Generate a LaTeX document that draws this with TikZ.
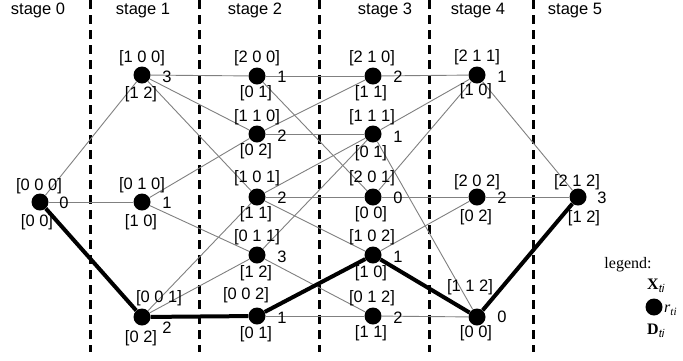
\documentclass[tikz,border=0pt]{standalone}
\usepackage{fontspec}
\setmainfont{Liberation Sans}
\newfontfamily\legendfont{Liberation Serif}
\begin{document}
\begin{tikzpicture}[x=1pt,y=-1pt,
  st/.style={circle,fill=black,inner sep=0pt,minimum size=17pt},
  lbl/.style={inner sep=0pt,font=\fontsize{16.5}{18}\selectfont},
  stagelbl/.style={inner sep=0pt,anchor=base,font=\fontsize{16.5}{18}\selectfont},
  leg/.style={inner sep=0pt,font=\legendfont\fontsize{16}{18}\selectfont},
  thinedge/.style={draw=black!50,line width=0.9pt},
  thickedge/.style={draw=black,line width=4pt,line join=round},
  divider/.style={draw=black,line width=3pt,dash pattern=on 9pt off 6pt}
]
\fill[white] (0,0) rectangle (683,360);
\path[use as bounding box] (0,0) rectangle (683,360);

% stage dividers
\foreach \xx/\nm in {90/d1,199/d2,319/d3,429/d4,533/d5}{
  \coordinate (\nm t) at (\xx,0);
  \coordinate (\nm b) at (\xx,352);
  \draw[divider] (\nm t) -- (\nm b);
}

% stage labels
\node[stagelbl] (sl0) at (38,14) {stage 0};
\node[stagelbl] (sl1) at (143,14) {stage 1};
\node[stagelbl] (sl2) at (255,14) {stage 2};
\node[stagelbl] (sl3) at (385,14) {stage 3};
\node[stagelbl] (sl4) at (478,14) {stage 4};
\node[stagelbl] (sl5) at (575,14) {stage 5};

% state nodes
\node[st] (n000) at (40,202) {};
\node[st] (n100) at (142,75) {};
\node[st] (n010) at (142,202) {};
\node[st] (n001) at (142,317) {};
\node[st] (n200) at (257,76) {};
\node[st] (n110) at (257,134) {};
\node[st] (n101) at (257,197) {};
\node[st] (n011) at (257,255) {};
\node[st] (n002) at (257,316) {};
\node[st] (n210) at (373,76) {};
\node[st] (n111) at (373,134) {};
\node[st] (n201) at (373,197) {};
\node[st] (n102) at (373,255) {};
\node[st] (n012) at (373,316) {};
\node[st] (n211) at (477,75) {};
\node[st] (n202) at (477,197) {};
\node[st] (n112) at (477,317) {};
\node[st] (n212) at (578,197) {};

% thin connectors
\draw[thinedge] (n000) -- (n100);
\draw[thinedge] (n000) -- (n010);
\draw[thinedge] (n100) -- (n200);
\draw[thinedge] (n100) -- (n110);
\draw[thinedge] (n100) -- (n101);
\draw[thinedge] (n010) -- (n110);
\draw[thinedge] (n010) -- (n011);
\draw[thinedge] (n001) -- (n101);
\draw[thinedge] (n001) -- (n011);
\draw[thinedge] (n200) -- (n210);
\draw[thinedge] (n200) -- (n201);
\draw[thinedge] (n110) -- (n210);
\draw[thinedge] (n110) -- (n111);
\draw[thinedge] (n101) -- (n111);
\draw[thinedge] (n101) -- (n201);
\draw[thinedge] (n101) -- (n102);
\draw[thinedge] (n011) -- (n111);
\draw[thinedge] (n011) -- (n012);
\draw[thinedge] (n002) -- (n012);
\draw[thinedge] (n210) -- (n211);
\draw[thinedge] (n111) -- (n211);
\draw[thinedge] (n111) -- (n112);
\draw[thinedge] (n201) -- (n211);
\draw[thinedge] (n201) -- (n202);
\draw[thinedge] (n102) -- (n202);
\draw[thinedge] (n012) -- (n112);
\draw[thinedge] (n211) -- (n212);
\draw[thinedge] (n202) -- (n212);

% optimal path
\draw[thickedge] (n000) -- (n001);
\draw[thickedge] (n001) -- (n002);
\draw[thickedge] (n002) -- (n102);
\draw[thickedge] (n102) -- (n112);
\draw[thickedge] (n112) -- (n212);

% labels: X above, D below, r right
\node[lbl] (x000) at (39,186) {[0 0 0]};
\node[lbl] (dd000) at (37,222) {[0 0]};
\node[lbl] (r000) at (64,203) {0};

\node[lbl] (x100) at (142,58) {[1 0 0]};
\node[lbl] (dd100) at (141,94) {[1 2]};
\node[lbl] (r100) at (167,77) {3};

\node[lbl] (x010) at (142,185) {[0 1 0]};
\node[lbl] (dd010) at (141,222) {[1 0]};
\node[lbl] (r010) at (167,203) {1};

\node[lbl] (x001) at (159,298) {[0 0 1]};
\node[lbl] (dd001) at (141,338) {[0 2]};
\node[lbl] (r001) at (167,328) {2};

\node[lbl] (x200) at (257,58) {[2 0 0]};
\node[lbl] (dd200) at (256,93) {[0 1]};
\node[lbl] (r200) at (282,77) {1};

\node[lbl] (x110) at (257,117) {[1 1 0]};
\node[lbl] (dd110) at (256,151) {[0 2]};
\node[lbl] (r110) at (282,136) {2};

\node[lbl] (x101) at (257,178) {[1 0 1]};
\node[lbl] (dd101) at (256,214) {[1 1]};
\node[lbl] (r101) at (282,198) {2};

\node[lbl] (x011) at (257,237) {[0 1 1]};
\node[lbl] (dd011) at (256,273) {[1 2]};
\node[lbl] (r011) at (282,257) {3};

\node[lbl] (x002) at (246,295) {[0 0 2]};
\node[lbl] (dd002) at (256,334) {[0 1]};
\node[lbl] (r002) at (282,318) {1};

\node[lbl] (x210) at (372,58) {[2 1 0]};
\node[lbl] (dd210) at (371,93) {[1 1]};
\node[lbl] (r210) at (398,77) {2};

\node[lbl] (x111) at (372,117) {[1 1 1]};
\node[lbl] (dd111) at (371,153) {[0 1]};
\node[lbl] (r111) at (398,137) {1};

\node[lbl] (x201) at (372,178) {[2 0 1]};
\node[lbl] (dd201) at (371,214) {[0 0]};
\node[lbl] (r201) at (398,198) {0};

\node[lbl] (x102) at (372,237) {[1 0 2]};
\node[lbl] (dd102) at (371,273) {[1 0]};
\node[lbl] (r102) at (398,257) {1};

\node[lbl] (x012) at (372,298) {[0 1 2]};
\node[lbl] (dd012) at (371,333) {[1 1]};
\node[lbl] (r012) at (398,318) {2};

\node[lbl] (x211) at (477,57) {[2 1 1]};
\node[lbl] (dd211) at (476,91) {[1 0]};
\node[lbl] (r211) at (502,77) {1};

\node[lbl] (x202) at (477,182) {[2 0 2]};
\node[lbl] (dd202) at (476,217) {[0 2]};
\node[lbl] (r202) at (502,198) {2};

\node[lbl] (x112) at (470,287) {[1 1 2]};
\node[lbl] (dd112) at (476,333) {[0 0]};
\node[lbl] (r112) at (502,317) {0};

\node[lbl] (x212) at (577,182) {[2 1 2]};
\node[lbl] (dd212) at (584,218) {[1 2]};
\node[lbl] (r212) at (602,198) {3};

% legend
\node[leg] (legtitle) at (628,265) {legend:};
\node[st] (legdot) at (654,307) {};
\node[leg,anchor=west] (legx) at (647,286) {\bfseries X\textsubscript{\normalfont\itshape ti}};
\node[leg,anchor=west] (legr) at (664,310) {\itshape r\textsubscript{ti}};
\node[leg,anchor=west] (legd) at (647,331) {\bfseries D\textsubscript{\normalfont\itshape ti}};
\end{tikzpicture}
\end{document}
